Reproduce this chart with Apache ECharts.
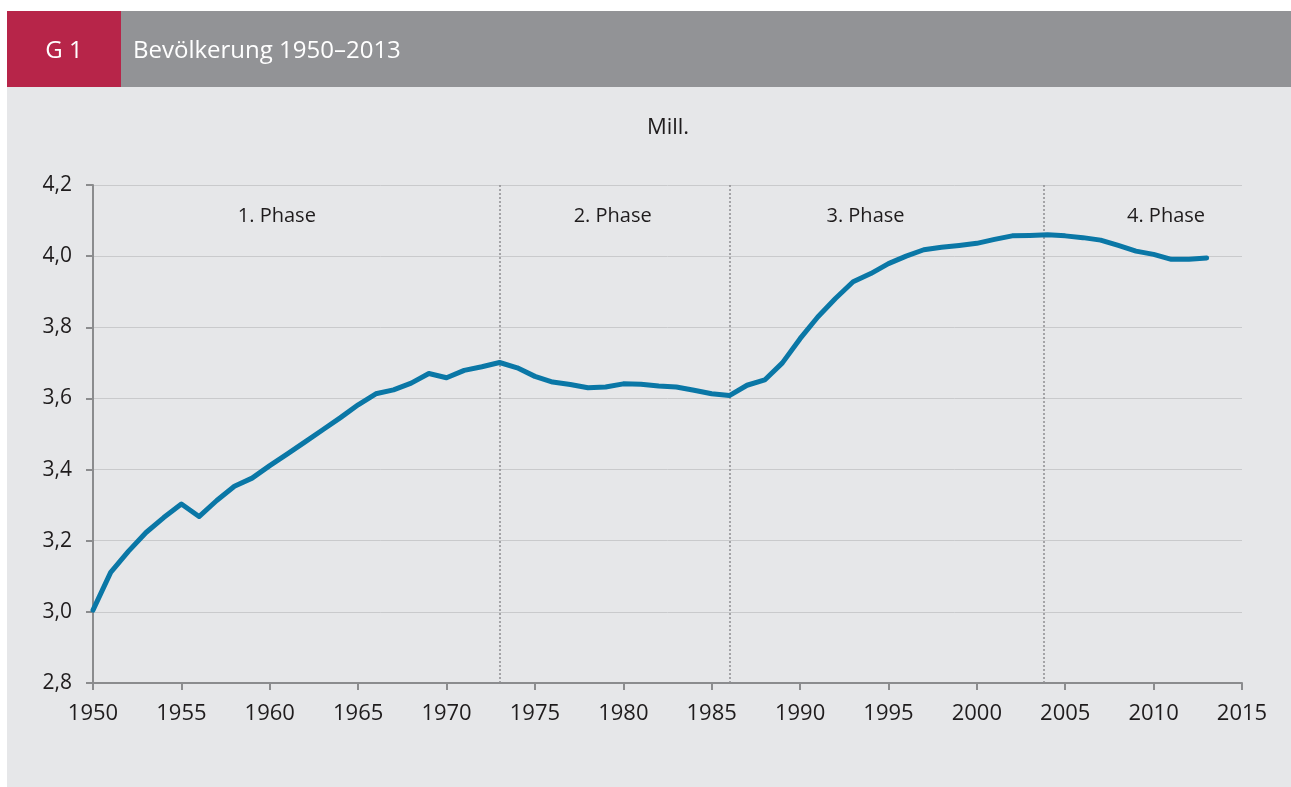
<!DOCTYPE html>
<html>
<head>
<meta charset="utf-8">
<script src="https://cdn.jsdelivr.net/npm/echarts@6/dist/echarts.min.js"></script>
<style>
html,body{margin:0;padding:0;background:#ffffff;}
#chart{width:1291px;height:787px;}
</style>
</head>
<body>
<div id="chart"></div>
<script>
const years = [1950,1951,1952,1953,1954,1955,1956,1957,1958,1959,
  1960,1961,1962,1963,1964,1965,1966,1967,1968,1969,
  1970,1971,1972,1973,1974,1975,1976,1977,1978,1979,
  1980,1981,1982,1983,1984,1985,1986,1987,1988,1989,
  1990,1991,1992,1993,1994,1995,1996,1997,1998,1999,
  2000,2001,2002,2003,2004,2005,2006,2007,2008,2009,
  2010,2011,2012,2013];
const population = [3.005,3.111,3.170,3.223,3.265,3.303,3.268,3.313,3.353,3.376,
  3.411,3.444,3.478,3.512,3.546,3.582,3.613,3.624,3.643,3.670,
  3.658,3.679,3.689,3.701,3.686,3.662,3.646,3.639,3.630,3.632,
  3.641,3.640,3.635,3.632,3.623,3.613,3.608,3.637,3.652,3.700,
  3.768,3.829,3.881,3.928,3.951,3.979,4.000,4.018,4.025,4.030,
  4.036,4.047,4.057,4.058,4.060,4.057,4.052,4.045,4.030,4.014,
  4.005,3.991,3.991,3.995];
const phaseBoundaries = [1973, 1986, 2003.8];
const phaseLabels = ['1. Phase', '2. Phase', '3. Phase', '4. Phase'];
const phaseLabelYears = [1960.4, 1979.4, 1993.7, 2010.7];
const phaseLabelLevel = 4.112;
const yTicks = [2.8, 3.0, 3.2, 3.4, 3.6, 3.8, 4.0, 4.2];
const xTicks = [1950, 1955, 1960, 1965, 1970, 1975, 1980, 1985, 1990, 1995, 2000, 2005, 2010, 2015];
const chartTitle = 'Bevölkerung 1950–2013';
const chartCode = 'G 1';
const unitLabel = 'Mill.';

const FONT = '"Open Sans", "Noto Sans", sans-serif';
const TXT = '#1f1c1d';

const chart = echarts.init(document.getElementById('chart'), null, {renderer: 'canvas'});
const option = {
  animation: false,
  backgroundColor: '#ffffff',
  textStyle: {fontFamily: FONT},
  graphic: [
    {type: 'rect', shape: {x: 7, y: 87, width: 1284, height: 700}, style: {fill: '#e6e7e9'}, z: -10},
    {type: 'rect', shape: {x: 7, y: 11, width: 114, height: 76}, style: {fill: '#b72549'}, z: -10},
    {type: 'rect', shape: {x: 121, y: 11, width: 1170, height: 76}, style: {fill: '#929396'}, z: -10},
    {type: 'text', x: 64, y: 51, style: {text: chartCode, fill: '#ffffff', font: '500 24px ' + FONT, textAlign: 'center', textVerticalAlign: 'middle'}},
    {type: 'text', x: 133, y: 51, style: {text: chartTitle, fill: '#ffffff', font: '500 24px ' + FONT, textAlign: 'left', textVerticalAlign: 'middle'}},
    {type: 'text', x: 668, y: 128, style: {text: unitLabel, fill: TXT, font: '22px ' + FONT, textAlign: 'center', textVerticalAlign: 'middle'}}
  ],
  grid: {left: 93, right: 49, top: 185, bottom: 104, containLabel: false},
  xAxis: {
    type: 'value', min: xTicks[0], max: xTicks[xTicks.length - 1], interval: 5,
    axisLine: {show: true, lineStyle: {color: '#8b8c8e', width: 2}},
    axisTick: {show: true, length: 7, lineStyle: {color: '#8b8c8e', width: 2}},
    axisLabel: {color: TXT, fontSize: 22, fontFamily: FONT, margin: 20, formatter: v => String(v)},
    splitLine: {show: false}
  },
  yAxis: {
    type: 'value', min: yTicks[0], max: yTicks[yTicks.length - 1], interval: 0.2,
    axisLine: {show: true, onZero: false, lineStyle: {color: '#8b8c8e', width: 2}},
    axisTick: {show: true, length: 7, lineStyle: {color: '#8b8c8e', width: 2}},
    axisLabel: {color: TXT, fontSize: 21, fontFamily: FONT, margin: 21, formatter: v => v.toFixed(1).replace('.', ',')},
    splitLine: {show: true, lineStyle: {color: '#c9cacc', width: 1}}
  },
  series: [
    {
      type: 'line',
      data: years.map((y, i) => [y, population[i]]),
      showSymbol: false,
      symbol: 'none',
      lineStyle: {color: '#0a77a6', width: 5, join: 'round', cap: 'round'},
      z: 5,
      markLine: {
        silent: true,
        symbol: ['none', 'none'],
        label: {show: false},
        lineStyle: {color: '#8e8f91', type: [2, 2], width: 1.5},
        data: phaseBoundaries.map(b => ({xAxis: b}))
      }
    },
    {
      type: 'scatter',
      symbolSize: 0,
      silent: true,
      itemStyle: {opacity: 1},
      data: phaseLabelYears.map((y, i) => ({value: [y, phaseLabelLevel], name: phaseLabels[i]})),
      label: {show: true, position: 'inside', formatter: p => p.name, color: TXT, fontSize: 20, fontFamily: FONT}
    }
  ]
};
chart.setOption(option);
</script>
</body>
</html>
